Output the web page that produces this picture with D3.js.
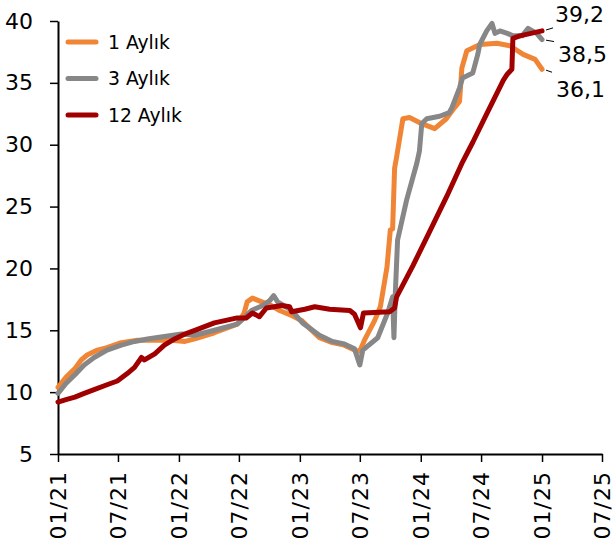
<!DOCTYPE html>
<html>
<head>
<meta charset="utf-8">
<script src="https://cdn.jsdelivr.net/npm/d3@7"></script>
<style>
  body { margin: 0; background: #fff; }
  svg { display: block; font-family: "DejaVu Sans", sans-serif; }
</style>
</head>
<body>
<div id="chart"></div>
<script>
// 1 Aylık
var aylik1 = [
  ["2021-01-01", 10.4], ["2021-01-25", 11.2], ["2021-02-21", 11.9], ["2021-03-12", 12.6],
  ["2021-03-30", 13.0], ["2021-04-30", 13.4], ["2021-05-29", 13.6], ["2021-07-11", 14.0],
  ["2021-08-29", 14.2], ["2021-10-20", 14.2], ["2021-12-10", 14.2], ["2022-01-19", 14.1],
  ["2022-02-18", 14.3], ["2022-04-18", 14.8], ["2022-06-26", 15.5], ["2022-07-17", 16.4],
  ["2022-07-26", 17.3], ["2022-08-11", 17.6], ["2022-09-08", 17.3], ["2022-10-07", 17.0],
  ["2022-11-01", 16.6], ["2022-12-07", 16.2], ["2023-01-06", 15.8], ["2023-03-01", 14.4],
  ["2023-04-09", 14.0], ["2023-05-15", 13.8], ["2023-06-15", 13.4], ["2023-07-01", 13.3],
  ["2023-07-15", 14.2], ["2023-08-15", 15.8], ["2023-09-01", 16.9], ["2023-09-21", 20.1],
  ["2023-10-01", 23.1], ["2023-10-08", 23.2], ["2023-10-14", 28.1], ["2023-10-20", 29.0],
  ["2023-11-08", 32.1], ["2023-11-28", 32.2], ["2024-01-04", 31.7], ["2024-02-12", 31.3],
  ["2024-03-18", 32.1], ["2024-04-12", 33.0], ["2024-04-27", 33.5], ["2024-05-04", 36.2],
  ["2024-05-19", 37.6], ["2024-06-28", 38.1], ["2024-08-18", 38.2], ["2024-09-26", 38.0],
  ["2024-11-05", 37.3], ["2024-12-11", 36.9], ["2025-01-01", 36.1]
];

// 3 Aylık
var aylik3 = [
  ["2021-01-01", 9.9], ["2021-01-25", 10.7], ["2021-02-21", 11.4], ["2021-03-21", 12.2],
  ["2021-04-20", 12.8], ["2021-05-29", 13.4], ["2021-07-11", 13.8], ["2021-08-20", 14.1],
  ["2021-09-28", 14.3], ["2021-11-18", 14.5], ["2022-01-09", 14.7], ["2022-02-18", 14.6],
  ["2022-04-18", 15.0], ["2022-06-26", 15.5], ["2022-07-17", 16.0], ["2022-08-08", 16.6],
  ["2022-09-11", 17.0], ["2022-10-02", 17.4], ["2022-10-14", 17.8], ["2022-10-26", 17.3],
  ["2022-12-07", 16.6], ["2023-01-09", 15.6], ["2023-03-01", 14.6], ["2023-04-09", 14.1],
  ["2023-05-15", 13.9], ["2023-06-15", 13.5], ["2023-07-01", 12.2], ["2023-07-10", 13.4],
  ["2023-08-24", 14.4], ["2023-09-23", 16.4], ["2023-10-08", 17.7], ["2023-10-12", 14.4],
  ["2023-10-16", 17.9], ["2023-10-23", 22.3], ["2023-11-19", 25.5], ["2023-12-20", 28.5],
  ["2023-12-28", 29.5], ["2024-01-04", 31.7], ["2024-01-19", 32.1], ["2024-02-27", 32.3],
  ["2024-03-27", 32.6], ["2024-04-04", 33.0], ["2024-04-27", 34.6], ["2024-05-06", 35.4],
  ["2024-06-06", 35.8], ["2024-06-21", 37.3], ["2024-06-27", 38.1], ["2024-07-18", 39.2],
  ["2024-08-03", 39.8], ["2024-08-12", 39.0], ["2024-08-27", 39.2], ["2024-09-18", 39.0],
  ["2024-10-06", 38.8], ["2024-11-02", 38.8], ["2024-11-20", 39.4], ["2024-12-16", 39.0],
  ["2025-01-01", 38.5]
];

// 12 Aylık
var aylik12 = [
  ["2021-01-01", 9.2], ["2021-01-25", 9.4], ["2021-02-21", 9.6], ["2021-03-21", 9.9],
  ["2021-04-20", 10.2], ["2021-05-29", 10.6], ["2021-06-29", 10.9], ["2021-07-29", 11.5],
  ["2021-08-20", 12.0], ["2021-09-10", 12.8], ["2021-09-19", 12.6], ["2021-10-20", 13.1],
  ["2021-11-18", 13.8], ["2021-12-19", 14.3], ["2022-01-19", 14.7], ["2022-02-18", 15.0],
  ["2022-04-18", 15.6], ["2022-06-26", 16.0], ["2022-07-23", 16.0], ["2022-08-11", 16.4],
  ["2022-09-01", 16.1], ["2022-09-22", 16.8], ["2022-10-16", 16.9], ["2022-11-07", 17.0],
  ["2022-12-01", 16.9], ["2022-12-07", 16.5], ["2023-01-16", 16.7], ["2023-02-15", 16.9],
  ["2023-04-01", 16.7], ["2023-06-01", 16.6], ["2023-06-15", 16.3], ["2023-07-03", 15.2],
  ["2023-07-12", 16.4], ["2023-09-29", 16.5], ["2023-10-14", 16.8], ["2023-10-20", 17.7],
  ["2023-12-08", 20.2], ["2024-01-28", 23.0], ["2024-03-19", 25.8], ["2024-05-06", 28.6],
  ["2024-06-06", 30.2], ["2024-07-18", 32.5], ["2024-09-06", 35.2], ["2024-09-18", 35.7],
  ["2024-10-02", 36.1], ["2024-10-05", 38.6], ["2024-10-26", 38.8], ["2025-01-01", 39.2]
];

var seriesNames = ["1 Aylık", "3 Aylık", "12 Aylık"];
var seriesColors = ["#f08536", "#878787", "#a00000"];
var lastLabels = ["36,1", "38,5", "39,2"];
var yTicks = [5, 10, 15, 20, 25, 30, 35, 40];

var width = 614,
    height = 546,
    plotLeft = 58,
    plotRight = 602,
    plotTop = 21,
    plotBottom = 454;

var parse = d3.timeParse("%Y-%m-%d");
var series = [aylik1, aylik3, aylik12].map(function(s, i) {
    return {
        name: seriesNames[i],
        color: seriesColors[i],
        label: lastLabels[i],
        values: s.map(function(d) { return { date: parse(d[0]), value: d[1] }; })
    };
});

var x = d3.scaleTime()
    .domain([parse("2021-01-01"), parse("2025-07-01")])
    .range([plotLeft, plotRight]);

var y = d3.scaleLinear()
    .domain([5, 40])
    .range([plotBottom, plotTop]);

var svg = d3.select("#chart").append("svg")
    .attr("width", width)
    .attr("height", height);

// y axis
var yAxis = svg.append("g")
    .attr("transform", "translate(" + plotLeft + ",0)")
    .call(d3.axisLeft(y).tickValues(yTicks).tickSize(8).tickPadding(17).tickSizeOuter(0));
yAxis.select(".domain").attr("stroke", "#000").attr("stroke-width", 2);
yAxis.selectAll(".tick line").attr("stroke", "#000").attr("stroke-width", 1.5);
yAxis.selectAll("text").attr("font-size", 22).attr("fill", "#000")
    .attr("font-family", "DejaVu Sans, sans-serif");

// x axis
var xAxis = svg.append("g")
    .attr("transform", "translate(0," + plotBottom + ")")
    .call(d3.axisBottom(x).ticks(d3.timeMonth.every(6)).tickFormat(d3.timeFormat("%m/%y"))
        .tickSize(8).tickSizeOuter(0));
xAxis.select(".domain").attr("stroke", "#000").attr("stroke-width", 2);
xAxis.selectAll(".tick line").attr("stroke", "#000").attr("stroke-width", 1.5);
xAxis.selectAll("text")
    .attr("font-size", 22)
    .attr("fill", "#000")
    .attr("font-family", "DejaVu Sans, sans-serif")
    .attr("letter-spacing", 1)
    .attr("text-anchor", "end")
    .attr("transform", "rotate(-90)")
    .attr("x", -17)
    .attr("y", 0)
    .attr("dy", "0.36em");

var line = d3.line()
    .x(function(d) { return x(d.date); })
    .y(function(d) { return y(d.value); });

svg.append("g")
    .selectAll("path")
    .data(series)
    .enter().append("path")
    .attr("fill", "none")
    .attr("stroke", function(d) { return d.color; })
    .attr("stroke-width", 5)
    .attr("stroke-linejoin", "round")
    .attr("stroke-linecap", "round")
    .attr("d", function(d) { return line(d.values); });

// end labels with small leader lines
var labelPos = [
    { dx: 6, dy: 3, tx: 556, ty: 97 },
    { dx: 8, dy: 2, tx: 558, ty: 62 },
    { dx: 7, dy: -3, tx: 555, ty: 22 }
];
series.forEach(function(s, i) {
    var last = s.values[s.values.length - 1];
    var px = x(last.date), py = y(last.value);
    svg.append("line")
        .attr("x1", px + 4).attr("y1", py + labelPos[i].dy * 0.3)
        .attr("x2", px + 4 + labelPos[i].dx).attr("y2", py + labelPos[i].dy)
        .attr("stroke", "#000").attr("stroke-width", 1);
    svg.append("text")
        .attr("x", labelPos[i].tx)
        .attr("y", labelPos[i].ty)
        .attr("font-size", 22)
        .attr("fill", "#000")
        .text(s.label);
});

// legend
var legend = svg.append("g")
    .selectAll("g")
    .data(series)
    .enter().append("g")
    .attr("transform", function(d, i) { return "translate(68," + (42 + i * 36.5) + ")"; });

legend.append("line")
    .attr("x1", 0).attr("x2", 28)
    .attr("stroke", function(d) { return d.color; })
    .attr("stroke-width", 5)
    .attr("stroke-linecap", "round");

legend.append("text")
    .attr("x", 40)
    .attr("dy", "0.36em")
    .attr("font-size", 18.8)
    .attr("fill", "#000")
    .text(function(d) { return d.name; });
</script>
</body>
</html>
